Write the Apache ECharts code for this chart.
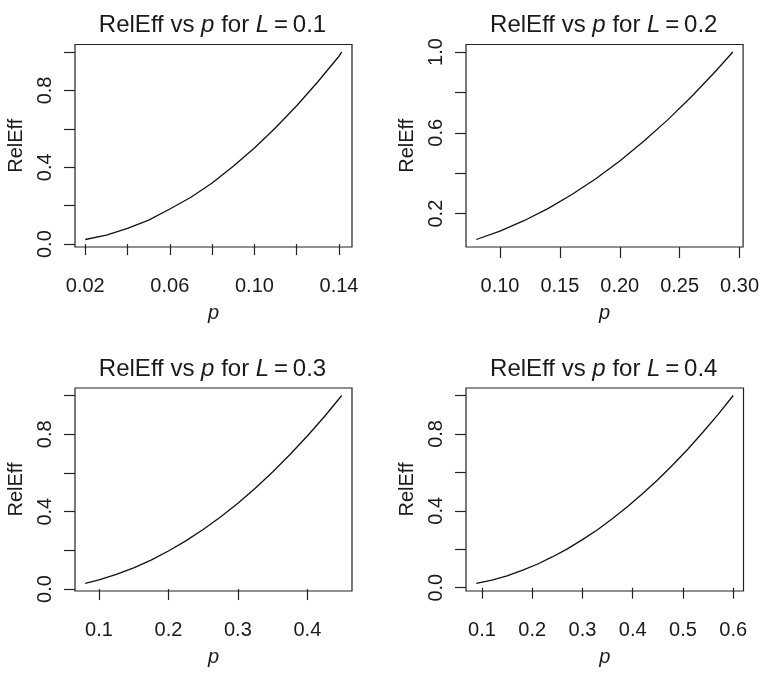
<!DOCTYPE html>
<html>
<head>
<meta charset="utf-8">
<script src="https://cdn.jsdelivr.net/npm/echarts@6/dist/echarts.min.js"></script>
<style>
  html, body { margin: 0; padding: 0; background: #ffffff; }
  #chart { width: 762px; height: 674px; }
</style>
</head>
<body>
<div id="chart"></div>
<script>
// ---- Data ----
// Panel 1: L = 0.1
const p1 = [0.02, 0.03, 0.04, 0.05, 0.06, 0.07, 0.08, 0.09, 0.10, 0.11, 0.12, 0.13, 0.14, 0.1413];
const relEff1 = [0.024, 0.047, 0.082, 0.125, 0.183, 0.244, 0.318, 0.405, 0.500, 0.606, 0.720, 0.845, 0.978, 1.0];
// Panel 2: L = 0.2
const p2 = [0.0802, 0.10, 0.12, 0.14, 0.16, 0.18, 0.20, 0.22, 0.24, 0.26, 0.28, 0.2944];
const relEff2 = [0.072, 0.113, 0.165, 0.225, 0.295, 0.373, 0.461, 0.558, 0.664, 0.780, 0.905, 1.0];
// Panel 3: L = 0.3
const p3 = [0.0803, 0.10, 0.125, 0.15, 0.175, 0.20, 0.225, 0.25, 0.275, 0.30, 0.325, 0.35, 0.375, 0.40, 0.425, 0.4495];
const relEff3 = [0.029, 0.048, 0.076, 0.110, 0.150, 0.197, 0.249, 0.308, 0.372, 0.443, 0.521, 0.605, 0.695, 0.791, 0.893, 1.0];
// Panel 4: L = 0.4
const p4 = [0.0888, 0.12, 0.15, 0.18, 0.21, 0.24, 0.27, 0.30, 0.33, 0.36, 0.39, 0.42, 0.45, 0.48, 0.51, 0.54, 0.57, 0.60];
const relEff4 = [0.022, 0.040, 0.062, 0.090, 0.122, 0.160, 0.202, 0.250, 0.302, 0.360, 0.422, 0.490, 0.562, 0.640, 0.722, 0.810, 0.902, 1.0];

const Lvalues = ['0.1', '0.2', '0.3', '0.4'];

// Tick positions and labelled ticks
const xTicks1 = [0.02, 0.04, 0.06, 0.08, 0.10, 0.12, 0.14];
const xLabels1 = [0.02, 0.06, 0.10, 0.14];
const xTicks2 = [0.10, 0.15, 0.20, 0.25, 0.30];
const xLabels2 = [0.10, 0.15, 0.20, 0.25, 0.30];
const xTicks3 = [0.1, 0.2, 0.3, 0.4];
const xLabels3 = [0.1, 0.2, 0.3, 0.4];
const xTicks4 = [0.1, 0.2, 0.3, 0.4, 0.5, 0.6];
const xLabels4 = [0.1, 0.2, 0.3, 0.4, 0.5, 0.6];

const yTicks1 = [0.0, 0.2, 0.4, 0.6, 0.8, 1.0];
const yLabels1 = [0.0, 0.4, 0.8];
const yTicks2 = [0.2, 0.4, 0.6, 0.8, 1.0];
const yLabels2 = [0.2, 0.6, 1.0];
const yTicks3 = [0.0, 0.2, 0.4, 0.6, 0.8, 1.0];
const yLabels3 = [0.0, 0.4, 0.8];
const yTicks4 = [0.0, 0.2, 0.4, 0.6, 0.8, 1.0];
const yLabels4 = [0.0, 0.4, 0.8];

// ---- Build chart ----
const FONT = '"Liberation Sans", Arial, Helvetica, sans-serif';
const INK = '#1a1a1a';

const panels = [
  { x: p1, y: relEff1, L: Lvalues[0], xt: xTicks1, xl: xLabels1, xd: 2, yt: yTicks1, yl: yLabels1,
    g: { left: 75, top: 44.5, width: 277, height: 202.5 } },
  { x: p2, y: relEff2, L: Lvalues[1], xt: xTicks2, xl: xLabels2, xd: 2, yt: yTicks2, yl: yLabels2,
    g: { left: 466, top: 44.5, width: 277.5, height: 202.5 } },
  { x: p3, y: relEff3, L: Lvalues[2], xt: xTicks3, xl: xLabels3, xd: 1, yt: yTicks3, yl: yLabels3,
    g: { left: 75, top: 388, width: 277, height: 203 } },
  { x: p4, y: relEff4, L: Lvalues[3], xt: xTicks4, xl: xLabels4, xd: 1, yt: yTicks4, yl: yLabels4,
    g: { left: 466, top: 388, width: 277.5, height: 203 } }
];

function padRange(arr) {
  const lo = Math.min.apply(null, arr), hi = Math.max.apply(null, arr);
  const d = (hi - lo) * 0.04;
  return [lo - d, hi + d];
}

const grids = [], xAxes = [], yAxes = [], series = [], titles = [];
const tickStyle = { color: '#222', width: 1.2 };

panels.forEach((pn, i) => {
  grids.push(Object.assign({ show: true, borderColor: '#222', borderWidth: 1.2, backgroundColor: 'transparent', containLabel: false }, pn.g));
  const xr = padRange(pn.x), yr = padRange(pn.y);
  xAxes.push({
    type: 'value', gridIndex: i, min: xr[0], max: xr[1],
    splitLine: { show: false },
    axisLine: { show: false },
    axisTick: { show: true, length: 11, customValues: pn.xt, lineStyle: tickStyle },
    axisLabel: {
      customValues: pn.xl, margin: 29, fontSize: 20, color: INK, fontFamily: FONT,
      formatter: (v) => Number(v).toFixed(pn.xd)
    },
    name: 'p', nameLocation: 'middle', nameGap: 56,
    nameTextStyle: { fontStyle: 'italic', fontSize: 20, color: INK, fontFamily: FONT }
  });
  yAxes.push({
    type: 'value', gridIndex: i, min: yr[0], max: yr[1],
    splitLine: { show: false },
    axisLine: { show: false },
    axisTick: { show: true, length: 11, customValues: pn.yt, lineStyle: tickStyle },
    axisLabel: {
      customValues: pn.yl, margin: 20, rotate: 90, fontSize: 20, color: INK, fontFamily: FONT,
      formatter: (v) => Number(v).toFixed(1)
    },
    name: 'RelEff', nameLocation: 'middle', nameGap: 49, nameRotate: 90,
    nameTextStyle: { fontSize: 20, color: INK, fontFamily: FONT }
  });
  series.push({
    type: 'line', xAxisIndex: i, yAxisIndex: i,
    data: pn.x.map((v, k) => [v, pn.y[k]]),
    showSymbol: false, symbol: 'none', smooth: false, silent: true,
    lineStyle: { color: '#111', width: 1.3 }
  });
  titles.push({
    text: '{n|RelEff vs }{i|p}{n| for }{i|L}{n|\u2009=\u2009' + pn.L + '}',
    left: pn.g.left + pn.g.width / 2 - 6,
    top: pn.g.top - 36,
    textAlign: 'center',
    textStyle: {
      fontWeight: 'normal',
      rich: {
        n: { fontSize: 24, color: INK, fontFamily: FONT, fontWeight: 'normal' },
        i: { fontSize: 24, color: INK, fontFamily: FONT, fontStyle: 'italic', fontWeight: 'normal' }
      }
    }
  });
});

const chart = echarts.init(document.getElementById('chart'), null, { renderer: 'canvas' });
chart.setOption({
  backgroundColor: '#ffffff',
  animation: false,
  title: titles,
  grid: grids,
  xAxis: xAxes,
  yAxis: yAxes,
  series: series
});
</script>
</body>
</html>
